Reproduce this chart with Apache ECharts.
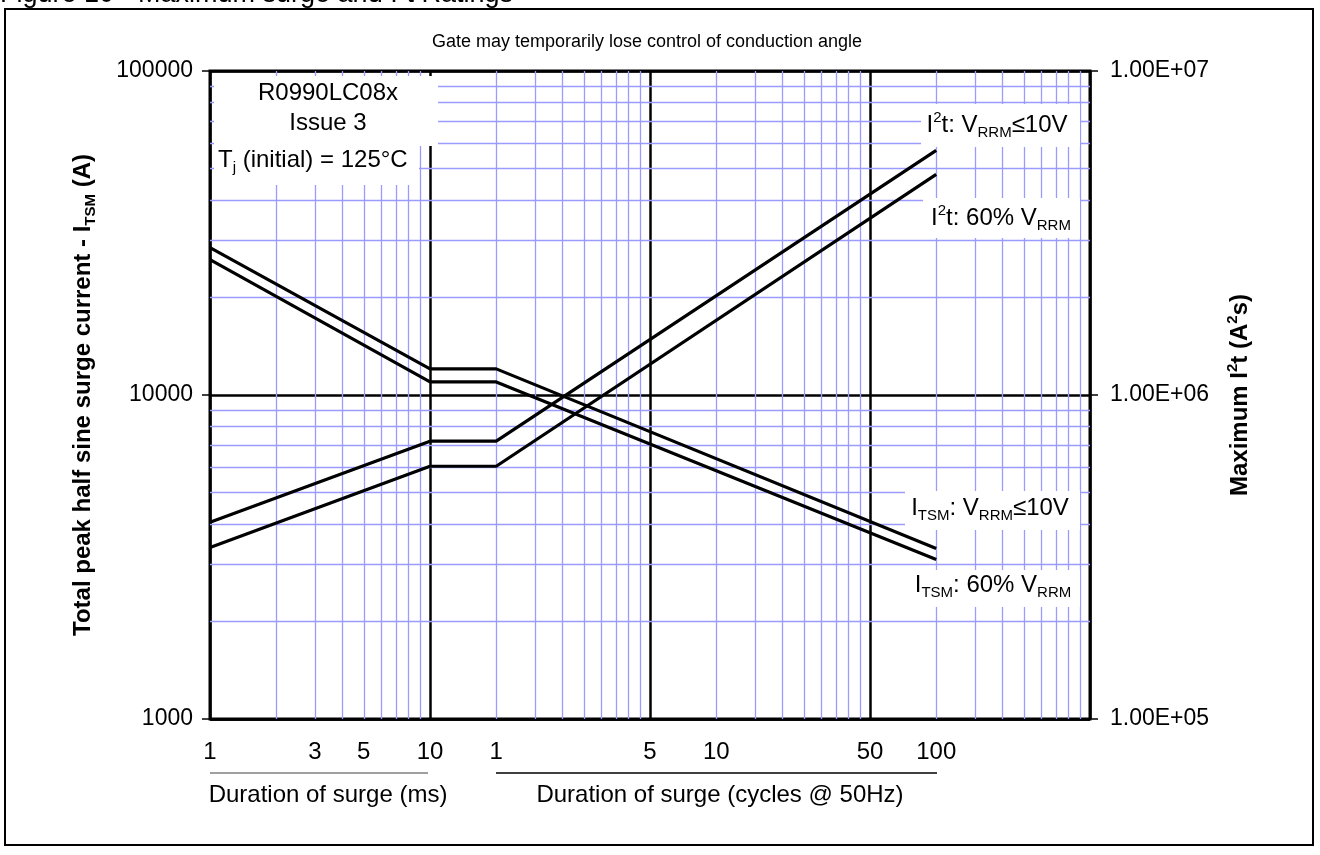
<!DOCTYPE html>
<html>
<head>
<meta charset="utf-8">
<script src="https://cdn.jsdelivr.net/npm/echarts@6/dist/echarts.min.js"></script>
<style>
  html, body { margin: 0; padding: 0; background: #fff; }
  #chart { width: 1320px; height: 855px; }
</style>
</head>
<body>
<div id="chart"></div>
<script>
// ---- Data ----
const durationMs = [1, 10, 20, 2000];                 // surge duration in ms (20 ms = 1 cycle @ 50 Hz)
const itsmLow10V = [28500, 12040, 12040, 3360];        // I_TSM, V_RRM <= 10V (A)
const itsm60     = [26170, 10970, 10970, 3107];        // I_TSM, 60% V_RRM (A)
const i2tLow10V  = [404500, 720500, 720500, 5690000];  // I2t, V_RRM <= 10V (A2s)
const i2t60      = [338300, 602600, 602600, 4798000];  // I2t, 60% V_RRM (A2s)

const xTickValues = [1, 3, 5, 10, 20, 100, 200, 1000, 2000];
const xTickLabels = ['1', '3', '5', '10', '1', '5', '10', '50', '100'];
const xMinorGrid = [];
[1, 10, 100, 1000].forEach(d => { for (let m = 2; m <= 9; m++) xMinorGrid.push(d * m); });
const yMinorGrid = [];
[1000, 10000].forEach(d => { for (let m = 2; m <= 9; m++) yMinorGrid.push(d * m); });

const FONT = "'Liberation Sans', Arial, sans-serif";
const BLUE = '#9a9aff';

function zip(xs, ys) { return xs.map((x, i) => [x, ys[i]]); }
function sci(v) {
  const e = Math.round(Math.log10(v));
  const m = v / Math.pow(10, e);
  return m.toFixed(2) + 'E+' + String(e).padStart(2, '0');
}
function xLabel(v) {
  for (let i = 0; i < xTickValues.length; i++) {
    if (Math.abs(Math.log10(v) - Math.log10(xTickValues[i])) < 1e-6) return xTickLabels[i];
  }
  return '';
}

const supSub = {
  sup: { fontSize: 15, fontFamily: FONT, verticalAlign: 'top', lineHeight: 14, color: '#000' },
  sub: { fontSize: 15, fontFamily: FONT, verticalAlign: 'bottom', lineHeight: 14, color: '#000' }
};
const supSubBold = {
  sup: { fontSize: 15, fontFamily: FONT, fontWeight: 'bold', verticalAlign: 'top', lineHeight: 14, color: '#000' },
  sub: { fontSize: 15, fontFamily: FONT, fontWeight: 'bold', verticalAlign: 'bottom', lineHeight: 14, color: '#000' }
};

function label(text, x, y, align, size) {
  return {
    type: 'text', z: 20, x: x, y: y,
    style: {
      text: text, fontFamily: FONT, fontSize: size || 24, fill: '#000', lineHeight: 30,
      align: align || 'center', textAlign: align || 'center',
      verticalAlign: 'middle', textVerticalAlign: 'middle',
      rich: supSub
    }
  };
}
function whiteBox(x, y, w, h) {
  return { type: 'rect', z: 15, shape: { x: x, y: y, width: w, height: h }, style: { fill: '#fff' } };
}

const chart = echarts.init(document.getElementById('chart'));
const option = {
  backgroundColor: '#fff',
  animation: false,
  grid: {
    left: 210, right: 230, top: 71, bottom: 136,
    show: true, borderColor: '#000', borderWidth: 3, backgroundColor: 'transparent'
  },
  xAxis: {
    type: 'log', logBase: 10, min: 1, max: 10000,
    axisLine: { show: false },
    axisTick: { show: false },
    splitLine: { show: true, lineStyle: { color: '#000', width: 2.5 } },
    axisLabel: {
      customValues: xTickValues,
      formatter: xLabel,
      fontFamily: FONT, fontSize: 24, color: '#000', margin: 21
    }
  },
  yAxis: [
    {
      type: 'log', logBase: 10, min: 1000, max: 100000,
      position: 'left',
      name: 'Total peak half sine surge current - I{sub|TSM} (A)',
      nameLocation: 'middle', nameRotate: 90, nameGap: 112,
      nameTextStyle: { fontFamily: FONT, fontSize: 24, fontWeight: 'bold', color: '#000', lineHeight: 30, rich: supSubBold },
      axisLine: { show: false },
      axisTick: { show: true, inside: false, length: 8, lineStyle: { color: '#000', width: 1.5 } },
      splitLine: { show: true, lineStyle: { color: '#000', width: 2.5 } },
      axisLabel: { formatter: v => String(Math.round(v)), fontFamily: FONT, fontSize: 23, color: '#000', margin: 17 }
    },
    {
      type: 'log', logBase: 10, min: 100000, max: 10000000,
      position: 'right',
      name: 'Maximum I{sup|2}t (A{sup|2}s)',
      nameLocation: 'middle', nameRotate: 90, nameGap: 135,
      nameTextStyle: { fontFamily: FONT, fontSize: 24, fontWeight: 'bold', color: '#000', lineHeight: 30, rich: supSubBold },
      axisLine: { show: false },
      axisTick: { show: true, inside: false, length: 8, lineStyle: { color: '#000', width: 1.5 } },
      splitLine: { show: false },
      axisLabel: { formatter: sci, fontFamily: FONT, fontSize: 23, color: '#000', margin: 20 }
    }
  ],
  series: [
    {
      name: 'minor grid', type: 'line', data: [], z: 1, silent: true,
      markLine: {
        silent: true, symbol: ['none', 'none'], label: { show: false },
        lineStyle: { color: BLUE, width: 1.3, type: 'solid' },
        emphasis: { disabled: true },
        data: xMinorGrid.map(v => ({ xAxis: v })).concat(yMinorGrid.map(v => ({ yAxis: v })))
      }
    },
    { name: 'I_TSM: V_RRM<=10V', type: 'line', yAxisIndex: 0, z: 5, data: zip(durationMs, itsmLow10V), symbol: 'none', lineStyle: { color: '#000', width: 3.2 } },
    { name: 'I_TSM: 60% V_RRM', type: 'line', yAxisIndex: 0, z: 5, data: zip(durationMs, itsm60), symbol: 'none', lineStyle: { color: '#000', width: 3.2 } },
    { name: 'I2t: V_RRM<=10V', type: 'line', yAxisIndex: 1, z: 5, data: zip(durationMs, i2tLow10V), symbol: 'none', lineStyle: { color: '#000', width: 3.2 } },
    { name: 'I2t: 60% V_RRM', type: 'line', yAxisIndex: 1, z: 5, data: zip(durationMs, i2t60), symbol: 'none', lineStyle: { color: '#000', width: 3.2 } }
  ],
  graphic: [
    // outer frame
    { type: 'rect', z: 30, shape: { x: 5, y: 9, width: 1308, height: 836 }, style: { fill: 'none', stroke: '#000', lineWidth: 2 } },
    // clipped figure caption
    { type: 'text', z: 30, x: 0, y: -5,
      style: { text: 'Figure 10 - Maximum surge and I{sup|2}t Ratings', fontFamily: FONT, fontSize: 27, fill: '#000',
               align: 'left', textAlign: 'left', verticalAlign: 'middle', textVerticalAlign: 'middle', lineHeight: 30,
               rich: { sup: { fontSize: 16, fontFamily: FONT, verticalAlign: 'top', lineHeight: 14 } } } },
    label('Gate may temporarily lose control of conduction angle', 647, 42, 'center', 18),
    // top-left annotation
    whiteBox(214, 76, 224, 70),
    whiteBox(214, 146, 205, 39),
    label('R0990LC08x', 328, 93),
    label('Issue 3', 328, 123),
    label('T{sub|j} (initial) = 125°C', 218, 160, 'left'),
    // curve labels
    whiteBox(921, 104, 159, 43),
    label('I{sup|2}t: V{sub|RRM}≤10V', 997, 125),
    whiteBox(923, 198, 157, 40),
    label('I{sup|2}t: 60% V{sub|RRM}', 1001, 218),
    whiteBox(905, 491, 175, 39),
    label('I{sub|TSM}: V{sub|RRM}≤10V', 990, 508),
    whiteBox(905, 570, 175, 37),
    label('I{sub|TSM}: 60% V{sub|RRM}', 993, 585),
    // x-axis group captions
    { type: 'line', z: 20, shape: { x1: 210, y1: 773, x2: 428, y2: 773 }, style: { stroke: '#808080', lineWidth: 1.5 } },
    { type: 'line', z: 20, shape: { x1: 496, y1: 773, x2: 937, y2: 773 }, style: { stroke: '#000', lineWidth: 1.5 } },
    label('Duration of surge (ms)', 328, 795),
    label('Duration of surge (cycles @ 50Hz)', 720, 795)
  ]
};
chart.setOption(option);
</script>
</body>
</html>
